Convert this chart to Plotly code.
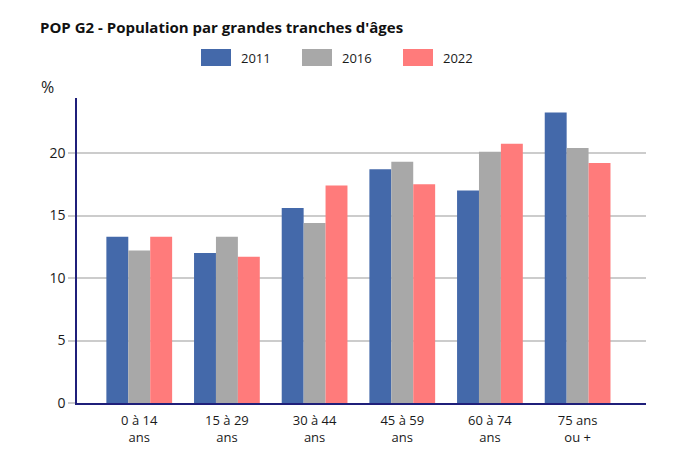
import plotly.graph_objects as go

# age groups and % of population per census year
categories = ["0 à 14<br>ans", "15 à 29<br>ans", "30 à 44<br>ans",
              "45 à 59<br>ans", "60 à 74<br>ans", "75 ans<br>ou +"]
years = ["2011", "2016", "2022"]
pop_2011 = [13.3, 12.0, 15.6, 18.7, 17.0, 23.25]
pop_2016 = [12.2, 13.3, 14.4, 19.3, 20.1, 20.4]
pop_2022 = [13.3, 11.7, 17.4, 17.5, 20.75, 19.2]
colors = ["#4469AA", "#A8A8A8", "#FF7B7B"]

FONT = "Open Sans"

# page body has an 8px margin, so the figure is a bit smaller than the window
W, H = 685, 454
ML, MR, MT, MB = 69, 47, 90, 59
PW, PH = W - ML - MR, H - MT - MB


def px_x(x):
    return (x - ML) / PW


def px_y(y):
    return 1 + (MT - y) / PH


fig = go.Figure()
for name, vals, col in zip(years, [pop_2011, pop_2016, pop_2022], colors):
    fig.add_trace(go.Bar(x=categories, y=vals, name=name,
                         marker=dict(color=col, line=dict(width=0)),
                         hoverinfo="x+y"))

# legend drawn by hand: wide colour keys like the original
shapes = []
annotations = []
for i, (name, col) in enumerate(zip(years, colors)):
    x0 = 193 + i * 101
    shapes.append(dict(type="rect", xref="paper", yref="paper",
                       x0=px_x(x0), x1=px_x(x0 + 30), y0=px_y(58), y1=px_y(41),
                       fillcolor=col, line=dict(width=0)))
    annotations.append(dict(text=name, xref="paper", yref="paper",
                            x=px_x(x0 + 38), y=px_y(50), xanchor="left",
                            yanchor="middle", showarrow=False,
                            font=dict(size=13, color="#1a1a1a")))

annotations.append(dict(text="%", xref="paper", yref="paper", x=px_x(31), y=px_y(79),
                        xanchor="left", yanchor="middle", showarrow=False,
                        font=dict(size=16, color="#1a1a1a")))

fig.update_layout(
    width=W, height=H,
    margin=dict(l=ML, r=MR, t=MT, b=MB),
    paper_bgcolor="white", plot_bgcolor="white",
    font=dict(family=FONT, size=13, color="#1a1a1a"),
    barmode="group", bargap=0.25, bargroupgap=0,
    title=dict(text="<b>POP G2 - Population par grandes tranches d'âges</b>",
               x=32 / W, xref="container", xanchor="left",
               y=1 - 20 / H, yref="container", yanchor="middle",
               font=dict(family=FONT, size=15, color="#111111")),
    showlegend=False,
    shapes=shapes,
    annotations=annotations,
)

fig.update_xaxes(showline=True, linecolor="#1F1F7A", linewidth=1.5,
                 range=[-0.71, 5.78], showgrid=False, ticks="",
                 ticklabelstandoff=5, tickfont=dict(size=13))
fig.update_yaxes(range=[0, 24.4], dtick=5, showline=True, linecolor="#1F1F7A",
                 linewidth=1.5, showgrid=True, gridcolor="#CCCCCC", gridwidth=1.5,
                 ticks="outside", tickcolor="#CCCCCC", ticklen=7, tickwidth=1.5,
                 zeroline=False, tickfont=dict(size=14))

fig.write_html("out.html")
